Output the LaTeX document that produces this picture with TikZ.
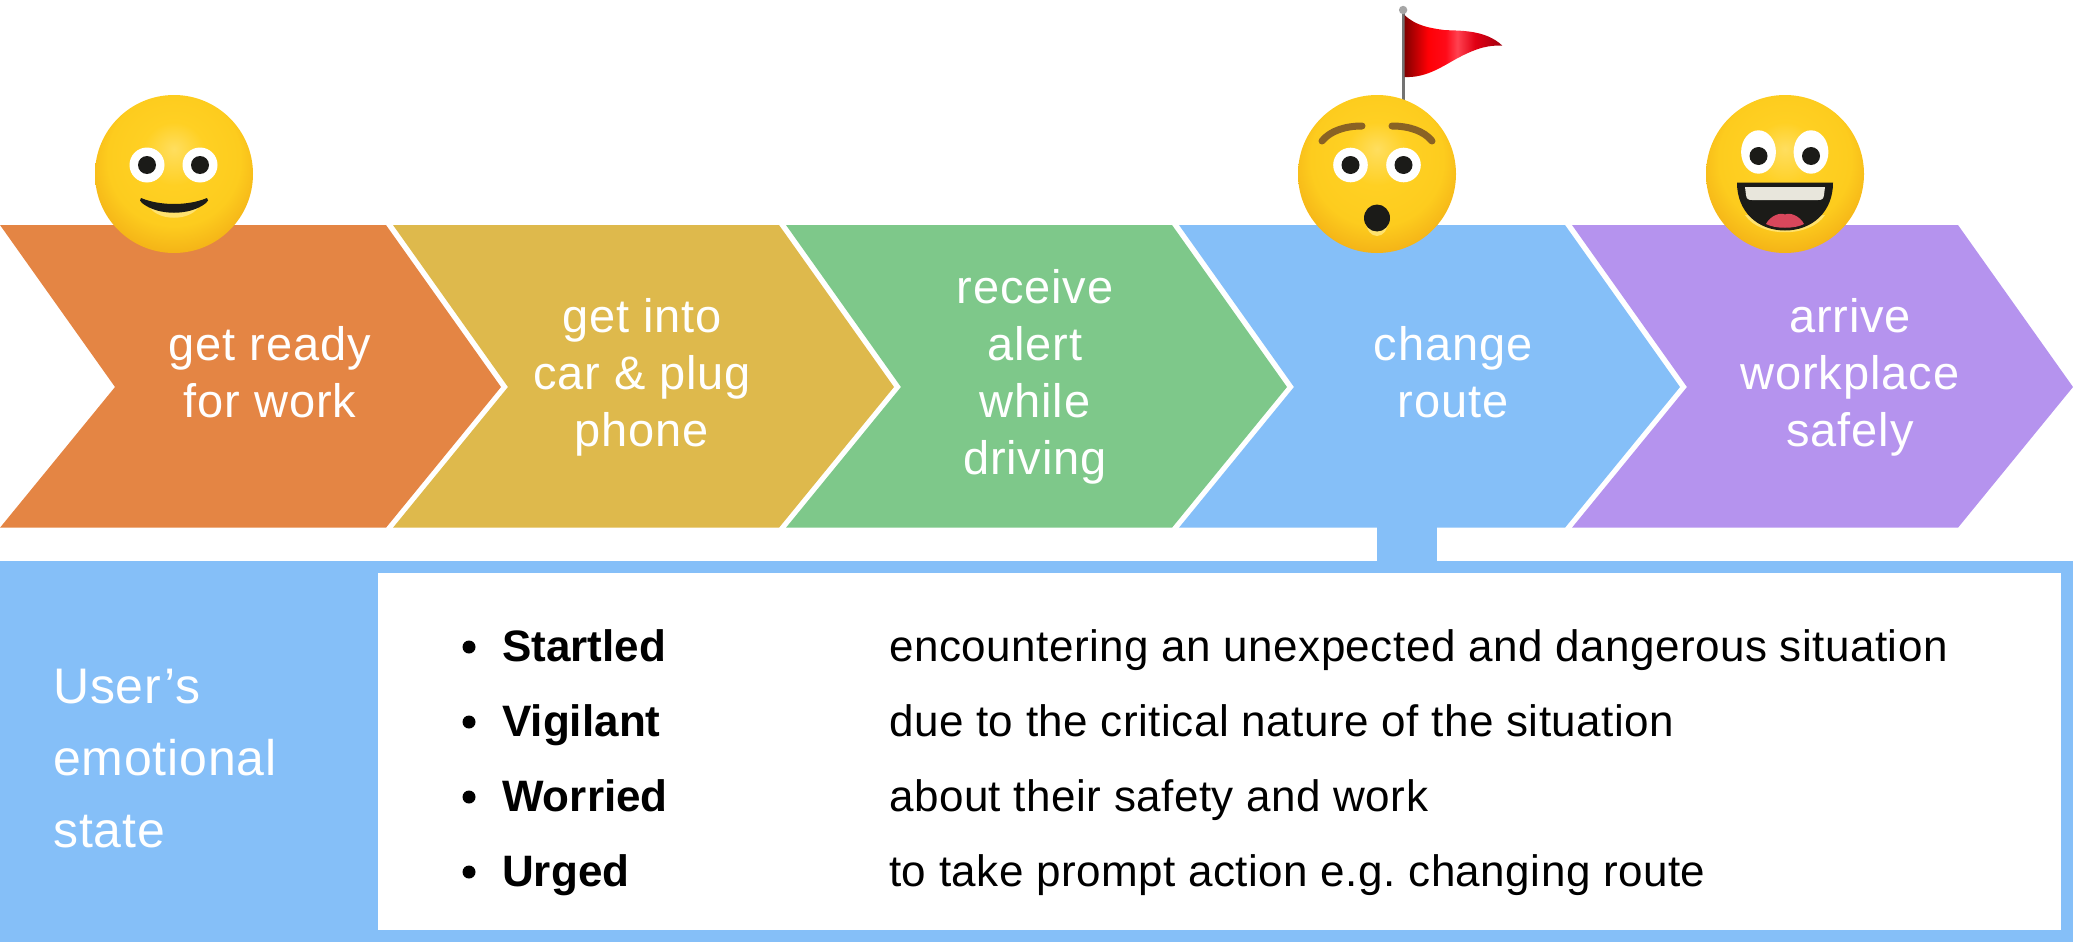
\documentclass[tikz,border=0pt]{standalone}
\usepackage{fontspec}
\setmainfont{Liberation Sans}
\newfontfamily\chevfont[LetterSpace=1.9]{Liberation Sans}
\newfontfamily\sidefont[LetterSpace=1.7]{Liberation Sans}
\newfontfamily\listfont[LetterSpace=1.1]{Liberation Sans}
\newfontfamily\listbold[LetterSpace=0.1]{Liberation Sans Bold}
\definecolor{corange}{HTML}{E48544}
\definecolor{cgold}{HTML}{DEB94C}
\definecolor{cgreen}{HTML}{7EC88A}
\definecolor{cblue}{HTML}{85BFF8}
\definecolor{cpurple}{HTML}{B593EE}
\definecolor{fdark}{HTML}{1B1B18}
\definecolor{brow}{HTML}{8A6224}
\definecolor{glow}{HTML}{FFE26E}
\definecolor{fa}{HTML}{FFDE5F}
\definecolor{fb}{HTML}{FFD023}
\definecolor{fc}{HTML}{FDCC1E}
\definecolor{fd}{HTML}{F0A814}
\definecolor{ra}{HTML}{820000}
\definecolor{rb}{HTML}{FF0005}
\definecolor{rc}{HTML}{FF0A19}
\definecolor{rd}{HTML}{FF4150}
\definecolor{re}{HTML}{E10014}
\definecolor{rf}{HTML}{A0000F}
\definecolor{tong}{HTML}{D8475C}
\definecolor{teeth}{HTML}{E8E6DC}
\pgfdeclareradialshading{facegrad}{\pgfpoint{0bp}{8bp}}{%
 color(0bp)=(fa);
 color(10bp)=(fb);
 color(21bp)=(fc);
 color(32bp)=(fd);
 color(50bp)=(fd)}
\pgfdeclarehorizontalshading{flaggrad}{100bp}{%
 color(0bp)=(ra);
 color(25bp)=(ra);
 color(37bp)=(rb);
 color(46bp)=(rc);
 color(52bp)=(rd);
 color(61bp)=(re);
 color(75bp)=(rf);
 color(100bp)=(rf)}
\newcommand{\ls}{\rule[-11pt]{0pt}{44pt}}
\tikzset{
  chevtext/.style={text=white,align=center,font=\chevfont\fontsize{47}{57}\selectfont,inner sep=0pt},
  listtext/.style={anchor=base west,inner sep=0pt,font=\listfont\fontsize{44}{50}\selectfont,text=black},
  listhead/.style={anchor=base west,inner sep=0pt,font=\listbold\fontsize{44}{50}\selectfont,text=black},
  sidetext/.style={anchor=base west,inner sep=0pt,text=white,font=\sidefont\fontsize{50}{50}\selectfont},
  bul/.style={circle,fill=black,inner sep=0pt,minimum size=13pt},
  facebase/.style={shading=facegrad,draw=none},
  eyew/.style={fill=white,draw=none},
  pupil/.style={fill=fdark,draw=none}
}
\newcommand{\chevron}[2]{%
  \fill[#2] (#1,225) -- ++(386,0) -- ++(115,162) -- ++(-115,140.7) -- ++(-386,0) -- ++(115,-140.7) -- cycle;}
\frenchspacing
\begin{document}
\begin{tikzpicture}[x=1pt,y=-1pt]
\useasboundingbox (0,0) rectangle (2073,942);
% chevrons
\chevron{0}{corange}
\chevron{393}{cgold}
\chevron{786}{cgreen}
\chevron{1179}{cblue}
\chevron{1572}{cpurple}
% panel
\fill[cblue] (1377,527) rectangle (1437,562);
\fill[cblue] (0,561) rectangle (2073,942);
\fill[white] (378,573) rectangle (2061,930);
% chevron labels
\node[chevtext] (t1) at (270,377.5) {\ls get ready\\\ls for work};
\node[chevtext] (t2) at (642,377.5) {\ls get into\\\ls car \& plug\\\ls phone};
\node[chevtext] (t3) at (1035,377.5) {\ls receive\\\ls alert\\\ls while\\\ls driving};
\node[chevtext] (t4) at (1453,377.5) {\ls change\\\ls route};
\node[chevtext] (t5) at (1850,377.5) {\ls arrive\\\ls workplace\\\ls safely};
% side label
\node[sidetext] (s1) at (53,703) {User’s};
\node[sidetext] (s2) at (53,775) {emotional};
\node[sidetext] (s3) at (53,847) {state};
% list
\node[bul] (b1) at (469,647) {};
\node[bul] (b2) at (469,722) {};
\node[bul] (b3) at (469,797) {};
\node[bul] (b4) at (469,872) {};
\node[listhead] (h1) at (502,661) {Startled};
\node[listhead] (h2) at (502,736) {Vigilant};
\node[listhead] (h3) at (502,811) {Worried};
\node[listhead] (h4) at (502,886) {Urged};
\node[listtext] (d1) at (889,661) {encountering an unexpected and dangerous situation};
\node[listtext] (d2) at (889,736) {due to the critical nature of the situation};
\node[listtext] (d3) at (889,811) {about their safety and work};
\node[listtext] (d4) at (889,886) {to take prompt action e.g. changing route};
% flag
\fill[gray!90!black] (1401.5,10) rectangle (1404.8,101);
\fill[gray!70!white] (1403.1,10) circle (4.2);
\shade[shading=flaggrad] (1404.5,15) .. controls (1416,26) and (1430,28) .. (1444,30)
  .. controls (1458,31) and (1485,29) .. (1502.4,45.7)
  .. controls (1490,45) and (1478,47) .. (1456,59)
  .. controls (1440,68) and (1425,78) .. (1404.5,77) -- cycle;
% face 1
\shade[facebase] (174,174) circle (79);
\fill[eyew] (147,165) circle (17.5);
\fill[eyew] (200,165) circle (17.5);
\fill[pupil] (147,165) circle (9);
\fill[pupil] (200,165) circle (9);
\fill[glow] (150,208) .. controls (160,221) and (188,221) .. (198,208) -- cycle;
\fill[fdark] (141,198) .. controls (160,206) and (188,206) .. (207,198)
  .. controls (209,199) and (208,202) .. (206,203)
  .. controls (190,216) and (158,216) .. (142,203)
  .. controls (140,202) and (139,199) .. (141,198) -- cycle;
% face 2
\shade[facebase] (1377,174) circle (79);
\draw[brow,line width=7pt,line cap=round] (1322,141) .. controls (1330,131) and (1345,126) .. (1362,126);
\draw[brow,line width=7pt,line cap=round] (1432,141) .. controls (1424,131) and (1409,126) .. (1392,126);
\fill[eyew] (1350.5,165) circle (17.3);
\fill[eyew] (1403.5,165) circle (17.3);
\fill[pupil] (1350.5,165) circle (9);
\fill[pupil] (1403.5,165) circle (9);
\fill[glow] (1377,222) ellipse (11 and 14);
\fill[fdark] (1377,218) ellipse (13 and 13.5);
% face 3
\shade[facebase] (1785,174) circle (79);
\fill[eyew] (1758.5,152) ellipse (17.4 and 21.7);
\fill[eyew] (1811,152) ellipse (17.4 and 21.7);
\fill[pupil] (1758.5,156) circle (9);
\fill[pupil] (1811,156) circle (9);
\fill[glow] (1745,215) .. controls (1760,238) and (1810,238) .. (1825,215) -- cycle;
\fill[fdark] (1737,182.7) -- (1833,182.7) .. controls (1833,212) and (1812,230.5) .. (1785,230.5)
  .. controls (1758,230.5) and (1737,212) .. (1737,182.7) -- cycle;
\fill[teeth] (1745,187) -- (1825,187) -- (1824,195) .. controls (1823.5,199) and (1822,200) .. (1818,200)
  -- (1752,200) .. controls (1748,200) and (1746.5,199) .. (1746,195) -- cycle;
\fill[tong] (1766,224) .. controls (1770,216) and (1780,212) .. (1785,214.5)
  .. controls (1790,212) and (1800,216) .. (1804,224) .. controls (1795,229) and (1775,229) .. (1766,224) -- cycle;
\end{tikzpicture}
\end{document}
